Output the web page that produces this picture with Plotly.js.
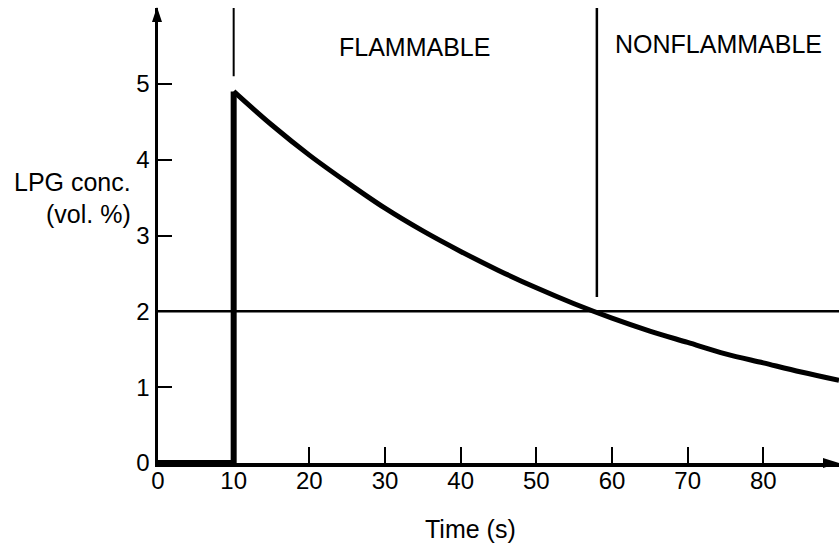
<!DOCTYPE html>
<html>
<head>
<meta charset="utf-8">
<script src="https://cdn.plot.ly/plotly-3.0.1.min.js"></script>
<style>html,body{margin:0;padding:0;background:#fff;}#chart{width:839px;height:548px;}</style>
</head>
<body>
<div id="chart"></div>
<script>
// Data
const stepTime = [0, 10, 10];
const stepConc = [0, 0, 4.9];
const decayTime = [10, 15, 20, 25, 30, 35, 40, 45, 50, 55, 60, 65, 70, 75, 80, 85, 90];
const decayConc = [4.9, 4.46, 4.06, 3.70, 3.36, 3.06, 2.79, 2.54, 2.31, 2.10, 1.91, 1.74, 1.59, 1.44, 1.32, 1.20, 1.09];
const xTickVals = [0, 10, 20, 30, 40, 50, 60, 70, 80];
const yTickVals = [0, 1, 2, 3, 4, 5];
const flammableLimit = 2;
const boundaryTime = 58;
const boundaryBottom = 2.19;
const releaseTime = 10;
const releaseMarkBottom = 5.1;
const regionLabels = ['FLAMMABLE', 'NONFLAMMABLE'];

const W = 839, H = 548;
const M = {l: 158, r: 0, t: 8, b: 85};
const pw = W - M.l - M.r, ph = H - M.t - M.b;
const px2x = p => (p - M.l) / pw;
const px2y = p => (H - M.b - p) / ph;

const font = 'Liberation Sans, Arial, Helvetica, sans-serif';

const traces = [
  {x: stepTime, y: stepConc, mode: 'lines', line: {color: '#000', width: 6, shape: 'linear'}, cliponaxis: false, hoverinfo: 'none'},
  {x: decayTime, y: decayConc, mode: 'lines', line: {color: '#000', width: 5, shape: 'spline', smoothing: 1}, cliponaxis: false, hoverinfo: 'none'}
];

const layout = {
  width: W, height: H,
  margin: M,
  paper_bgcolor: '#fff', plot_bgcolor: '#fff',
  showlegend: false,
  font: {family: font, color: '#000', size: 24},
  xaxis: {
    range: [0, 90], showgrid: false, zeroline: false,
    showline: true, linecolor: '#000', linewidth: 3.5,
    ticks: 'inside', ticklen: 16, tickwidth: 2, tickcolor: '#000',
    tickvals: xTickVals, ticktext: xTickVals.map(String),
    ticklabelstandoff: -6,
    tickfont: {family: font, size: 24, color: '#000'}
  },
  yaxis: {
    range: [0, 6], showgrid: false, zeroline: false,
    showline: true, linecolor: '#000', linewidth: 3.5,
    ticks: 'inside', ticklen: 14, tickwidth: 2, tickcolor: '#000',
    tickvals: yTickVals, ticktext: yTickVals.map(String),
    tickfont: {family: font, size: 24, color: '#000'}
  },
  shapes: [
    {type: 'line', xref: 'paper', yref: 'y', x0: 0, x1: 1, y0: flammableLimit, y1: flammableLimit, line: {color: '#000', width: 2.5}},
    {type: 'line', xref: 'x', yref: 'y', x0: boundaryTime, x1: boundaryTime, y0: boundaryBottom, y1: 6, line: {color: '#000', width: 2.5}},
    {type: 'line', xref: 'x', yref: 'y', x0: releaseTime, x1: releaseTime, y0: releaseMarkBottom, y1: 6, line: {color: '#000', width: 2}},
    {type: 'path', xref: 'paper', yref: 'paper', fillcolor: '#000', line: {width: 0},
     path: `M ${px2x(157)},${px2y(7)} L ${px2x(152)},${px2y(22)} L ${px2x(162)},${px2y(22)} Z`},
    {type: 'path', xref: 'paper', yref: 'paper', fillcolor: '#000', line: {width: 0},
     path: `M ${px2x(839)},${px2y(463)} L ${px2x(823)},${px2y(458)} L ${px2x(823)},${px2y(468)} Z`}
  ],
  annotations: [
    {xref: 'paper', yref: 'paper', x: px2x(133), y: px2y(182), xanchor: 'right', yanchor: 'middle', showarrow: false, text: 'LPG conc.', font: {size: 25}},
    {xref: 'paper', yref: 'paper', x: px2x(133), y: px2y(214), xanchor: 'right', yanchor: 'middle', showarrow: false, text: '(vol. %)', font: {size: 25}},
    {xref: 'paper', yref: 'paper', x: px2x(470), y: px2y(529), xanchor: 'center', yanchor: 'middle', showarrow: false, text: 'Time (s)', font: {size: 25}},
    {xref: 'paper', yref: 'paper', x: px2x(414), y: px2y(47), xanchor: 'center', yanchor: 'middle', showarrow: false, text: regionLabels[0], font: {size: 25}},
    {xref: 'paper', yref: 'paper', x: px2x(718), y: px2y(44), xanchor: 'center', yanchor: 'middle', showarrow: false, text: regionLabels[1], font: {size: 25}}
  ]
};

Plotly.newPlot('chart', traces, layout, {staticPlot: true, displayModeBar: false});
</script>
</body>
</html>
